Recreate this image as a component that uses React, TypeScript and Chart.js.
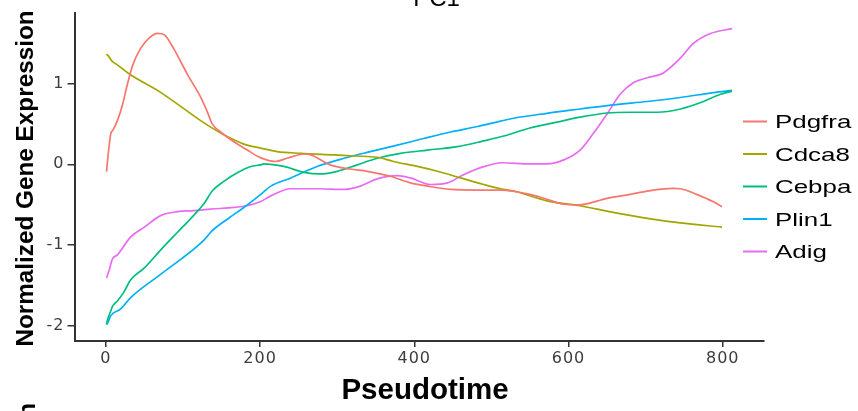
import React, { useEffect, useRef } from 'react';
import { Chart, registerables } from 'chart.js';

Chart.register(...registerables);

// ---- data (pseudotime, normalized expression) ----
const seriesNames = ['Pdgfra', 'Cdca8', 'Cebpa', 'Plin1', 'Adig'];
const seriesColors = ['#F8766D', '#A3A500', '#00BF7D', '#00B0F6', '#E76BF3'];

const pdgfra: number[][] = [
  [1, -0.09], [2, 0.02], [6.5, 0.38], [9, 0.42], [15, 0.54], [22, 0.75], [28, 0.99], [35, 1.23],
  [45, 1.43], [56, 1.56], [67, 1.62], [76, 1.6], [88, 1.43], [106, 1.11], [123, 0.83], [132, 0.64],
  [138, 0.5], [149, 0.4], [166, 0.28], [183, 0.18], [201, 0.08], [220, 0.035], [235, 0.075],
  [257, 0.128], [266, 0.116], [291, -0.006], [317, -0.058], [339, -0.086], [369, -0.147],
  [395, -0.229], [417, -0.269], [447, -0.31], [482, -0.318], [512, -0.318], [550, -0.371],
  [572, -0.432], [594, -0.493], [615, -0.5], [650, -0.42], [680, -0.371], [710, -0.318],
  [736, -0.298], [745, -0.302], [766, -0.371], [788, -0.463], [799, -0.524],
];
const cdca8: number[][] = [
  [1, 1.365], [4, 1.33], [8.7, 1.27], [15, 1.23], [30, 1.12], [71, 0.89], [123, 0.54], [136, 0.46],
  [158, 0.34], [179, 0.25], [201, 0.2], [222, 0.157], [253, 0.136], [296, 0.116], [322, 0.103],
  [352, 0.088], [373, 0.035], [404, -0.026], [430, -0.086], [460, -0.168], [490, -0.249],
  [512, -0.302], [529, -0.33], [572, -0.451], [615, -0.512], [658, -0.594], [702, -0.667],
  [745, -0.724], [799, -0.776],
];
const cebpa: number[][] = [
  [1, -1.98], [2, -1.93], [6.5, -1.81], [9, -1.75], [15, -1.69], [24, -1.57], [32, -1.43], [50, -1.28],
  [71, -1.06], [93, -0.84], [114, -0.63], [127, -0.49], [138, -0.33], [153, -0.21], [171, -0.1],
  [188, -0.026], [201, -0.006], [205, 0.006], [231, -0.026], [257, -0.099], [278, -0.119],
  [300, -0.086], [326, -0.006], [352, 0.075], [382, 0.136], [417, 0.176], [456, 0.218], [490, 0.29],
  [516, 0.35], [550, 0.449], [585, 0.522], [615, 0.583], [650, 0.635], [680, 0.644], [715, 0.644],
  [745, 0.684], [775, 0.777], [797, 0.866], [812, 0.906],
];
const plin1: number[][] = [
  [1, -1.98], [3, -1.95], [6.5, -1.87], [19, -1.79], [32, -1.65], [71, -1.36], [127, -0.94],
  [138, -0.82], [158, -0.675], [179, -0.533], [201, -0.371], [214, -0.269], [240, -0.168],
  [274, -0.026], [309, 0.075], [343, 0.157], [378, 0.237], [412, 0.319], [447, 0.4], [482, 0.468],
  [512, 0.534], [529, 0.57], [572, 0.631], [615, 0.684], [658, 0.736], [702, 0.777], [745, 0.826],
  [788, 0.887], [812, 0.915],
];
const adig: number[][] = [
  [1, -1.405], [4, -1.32], [8.7, -1.17], [15, -1.12], [32, -0.9], [50, -0.776], [71, -0.634],
  [93, -0.585], [114, -0.573], [136, -0.554], [166, -0.533], [183, -0.512], [201, -0.46],
  [214, -0.39], [240, -0.302], [274, -0.302], [309, -0.31], [330, -0.269], [352, -0.18],
  [378, -0.14], [395, -0.168], [421, -0.249], [443, -0.229], [464, -0.128], [488, -0.035],
  [514, 0.02], [550, 0.006], [572, 0.006], [594, 0.055], [615, 0.176], [632, 0.38], [650, 0.623],
  [667, 0.866], [684, 1.009], [702, 1.07], [723, 1.13], [745, 1.313], [762, 1.495], [784, 1.617],
  [812, 1.678],
];
const seriesData = [pdgfra, cdca8, cebpa, plin1, adig];

const xTicks = [0, 200, 400, 600, 800];
const yTicks = [-2, -1, 0, 1];
const chartTitle = 'PC1';
const xTitle = 'Pseudotime';
const yTitle = 'Normalized Gene Expression';

const tickSpacingPlugin = {
  id: 'tickSpacing',
  beforeDraw(chart: any) {
    chart.ctx.letterSpacing = '1px';
  },
  beforeDatasetsDraw(chart: any) {
    chart.ctx.letterSpacing = '0px';
  },
};

const textPlugin = {
  id: 'texts',
  afterDraw(chart: any) {
    const ctx = chart.ctx as CanvasRenderingContext2D;
    ctx.save();
    (ctx as any).letterSpacing = '0px';
    ctx.fillStyle = '#000';
    ctx.textBaseline = 'alphabetic';

    // title (cut off at top)
    ctx.font = '24px "Liberation Sans", Arial, sans-serif';
    ctx.textAlign = 'center';
    ctx.fillText(chartTitle, 436.5, 6);

    // x title
    ctx.font = 'bold 29.5px "Liberation Sans", Arial, sans-serif';
    ctx.fillText(xTitle, 425, 399);

    // y title
    ctx.font = 'bold 24.3px "Liberation Sans", Arial, sans-serif';
    ctx.save();
    ctx.translate(33, 178.5);
    ctx.rotate(-Math.PI / 2);
    ctx.textAlign = 'center';
    ctx.fillText(yTitle, 0, 0);
    ctx.restore();

    // next panel's y title (cut off at bottom)
    ctx.save();
    ctx.translate(34.5, 403);
    ctx.rotate(-Math.PI / 2);
    ctx.textAlign = 'right';
    ctx.fillText(yTitle, 0, 0);
    ctx.restore();

    // legend
    chart.data.datasets.forEach((ds: any, i: number) => {
      const y = 121.5 + i * 32.5;
      ctx.strokeStyle = ds.borderColor;
      ctx.lineWidth = 2;
      ctx.beginPath();
      ctx.moveTo(743, y);
      ctx.lineTo(767, y);
      ctx.stroke();
      ctx.save();
      ctx.translate(775, y + 6.7);
      ctx.scale(1.4, 1);
      ctx.font = '18.5px "Liberation Sans", Arial, sans-serif';
      ctx.textAlign = 'left';
      ctx.fillStyle = '#000';
      ctx.fillText(ds.label, 0, 0);
      ctx.restore();
    });
    ctx.restore();
  },
};

export default function App() {
  const canvasRef = useRef<HTMLCanvasElement | null>(null);

  useEffect(() => {
    if (!canvasRef.current) return;
    const tickFont = { family: '"DejaVu Sans", sans-serif', size: 16 };
    const chart = new Chart(canvasRef.current, {
      type: 'line',
      data: {
        datasets: seriesNames.map((name, i) => ({
          label: name,
          data: seriesData[i].map(([x, y]) => ({ x, y })),
          borderColor: seriesColors[i],
          backgroundColor: seriesColors[i],
          borderWidth: 1.7,
          pointRadius: 0,
          fill: false,
          cubicInterpolationMode: 'monotone' as const,
        })),
      },
      options: {
        responsive: false,
        animation: false,
        layout: { padding: { top: 7, right: 94.7, left: 0, bottom: 0 } },
        plugins: {
          legend: { display: false },
          title: { display: false },
          tooltip: { enabled: false },
        },
        scales: {
          x: {
            type: 'linear',
            min: -40.6,
            max: 852.6,
            afterBuildTicks: (s: any) => {
              s.ticks = xTicks.map((v) => ({ value: v }));
            },
            afterFit: (s: any) => {
              s.height = 70;
            },
            grid: { drawOnChartArea: false, drawTicks: true, tickLength: 6, color: '#333', lineWidth: 1.5 },
            border: { display: true, color: '#333', width: 2 },
            ticks: {
              color: '#3d3d3d',
              font: tickFont,
              padding: 2,
              maxRotation: 0,
              autoSkip: false,
              callback: (v: any) => String(v),
            },
          },
          y: {
            type: 'linear',
            min: -2.184,
            max: 1.876,
            afterBuildTicks: (s: any) => {
              s.ticks = yTicks.map((v) => ({ value: v }));
            },
            afterFit: (s: any) => {
              s.width = 74.5;
            },
            grid: { drawOnChartArea: false, drawTicks: true, tickLength: 7, color: '#333', lineWidth: 1.5 },
            border: { display: true, color: '#333', width: 2 },
            ticks: {
              color: '#3d3d3d',
              font: tickFont,
              padding: 3,
              autoSkip: false,
              callback: (v: any) => String(v),
            },
          },
        },
      },
      plugins: [tickSpacingPlugin, textPlugin],
    });
    return () => chart.destroy();
  }, []);

  return (
    <div style={{ position: 'absolute', left: 0, top: 0, width: 858, height: 411, background: '#fff' }}>
      <canvas ref={canvasRef} width={858} height={411} style={{ display: 'block', width: 858, height: 411 }} />
    </div>
  );
}
